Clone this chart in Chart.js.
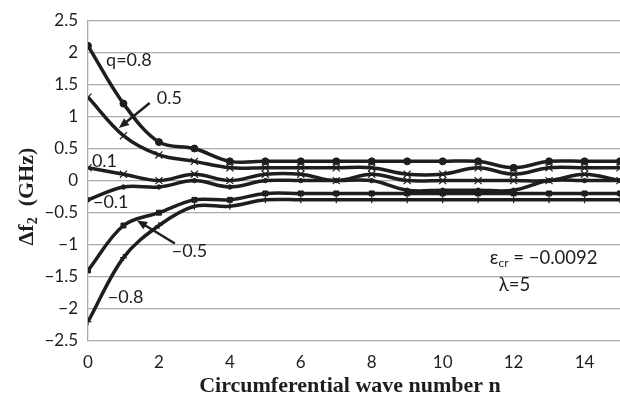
<!DOCTYPE html>
<html>
<head>
<meta charset="utf-8">
<script src="https://cdn.jsdelivr.net/npm/chart.js@4.4.1/dist/chart.umd.min.js"></script>
<style>
  body { margin: 0; background: #fff; }
  #wrap { width: 620px; height: 394px; position: relative; }
</style>
</head>
<body>
<div id="wrap"><canvas id="modesChart"></canvas></div>
<script>
// wave numbers n and frequency shifts (GHz)
const waveNumbers = [0, 1, 2, 3, 4, 5, 6, 7, 8, 9, 10, 11, 12, 13, 14, 15];
const shiftQ08 = [2.1, 1.2, 0.6, 0.5, 0.3, 0.3, 0.3, 0.3, 0.3, 0.3, 0.3, 0.3, 0.2, 0.3, 0.3, 0.3];
const shiftQ05 = [1.3, 0.7, 0.4, 0.3, 0.2, 0.2, 0.2, 0.2, 0.2, 0.1, 0.1, 0.2, 0.1, 0.2, 0.2, 0.2];
const shiftQ01 = [0.2, 0.1, 0, 0.1, 0, 0.1, 0.1, 0, 0.1, 0, 0, 0, 0, 0, 0.1, 0];
const shiftQm01 = [-0.3, -0.1, -0.1, 0, -0.1, 0, 0, 0, 0, -0.15, -0.15, -0.15, -0.15, 0, 0, 0];
const shiftQm05 = [-1.4, -0.7, -0.5, -0.3, -0.3, -0.2, -0.2, -0.2, -0.2, -0.2, -0.2, -0.2, -0.2, -0.2, -0.2, -0.2];
const shiftQm08 = [-2.2, -1.2, -0.7, -0.4, -0.4, -0.3, -0.3, -0.3, -0.3, -0.3, -0.3, -0.3, -0.3, -0.3, -0.3, -0.3];

const xTicks = [0, 2, 4, 6, 8, 10, 12, 14];

// curve labels, placed in data units: [text, n, value]
const curveLabels = [
  ['q=0.8', 0.51, 1.88],
  ['0.5', 1.94, 1.29],
  ['0.1', 0.11, 0.31],
  ['\u22120.1', 0.14, -0.34],
  ['\u22120.5', 2.36, -1.10],
  ['\u22120.8', 0.56, -1.82]
];
// arrows: [fromN, fromV, toN, toV]
const arrows = [
  [1.74, 1.21, 0.87, 0.82],
  [2.45, -0.98, 1.38, -0.62]
];

const ink = '#1e1e1e';

function series(values, style, radius) {
  return {
    data: waveNumbers.map((n, i) => ({ x: n, y: values[i] })),
    borderColor: ink,
    backgroundColor: ink,
    borderWidth: 3.5,
    pointStyle: style,
    pointRadius: radius,
    pointBorderWidth: style === 'crossRot' || style === 'cross' ? 1.2 : 1,
    pointBorderColor: ink,
    tension: 0.35,
    fill: false
  };
}

const minus = v => (v < 0 ? '\u2212' + Math.abs(v) : String(v));

const overlay = {
  id: 'overlay',
  afterDatasetsDraw(chart) {
    const { ctx, chartArea, scales: { x, y } } = chart;
    ctx.save();
    ctx.fillStyle = ink;
    ctx.strokeStyle = ink;
    ctx.font = '18px Lato';
    ctx.textBaseline = 'middle';
    ctx.textAlign = 'left';
    curveLabels.forEach(([t, n, v]) => {
      ctx.fillText(t, x.getPixelForValue(n), y.getPixelForValue(v));
    });

    // arrows with filled heads
    arrows.forEach(([n1, v1, n2, v2]) => {
      const x1 = x.getPixelForValue(n1), y1 = y.getPixelForValue(v1);
      const x2 = x.getPixelForValue(n2), y2 = y.getPixelForValue(v2);
      const a = Math.atan2(y2 - y1, x2 - x1);
      ctx.lineWidth = 2.5;
      ctx.beginPath();
      ctx.moveTo(x1, y1);
      ctx.lineTo(x2 - 6 * Math.cos(a), y2 - 6 * Math.sin(a));
      ctx.stroke();
      ctx.beginPath();
      ctx.moveTo(x2, y2);
      ctx.lineTo(x2 - 11 * Math.cos(a - 0.4), y2 - 11 * Math.sin(a - 0.4));
      ctx.lineTo(x2 - 11 * Math.cos(a + 0.4), y2 - 11 * Math.sin(a + 0.4));
      ctx.closePath();
      ctx.fill();
    });

    // parameter note
    let px = x.getPixelForValue(11.33), py = y.getPixelForValue(-1.21);
    ctx.font = '19px Lato';
    ctx.fillText('\u03b5', px, py);
    px += ctx.measureText('\u03b5').width;
    ctx.font = '12px Lato';
    ctx.fillText('cr', px, py + 5);
    px += ctx.measureText('cr').width;
    ctx.font = '18.5px Lato';
    ctx.fillText(' = \u22120.0092', px, py);
    ctx.fillText('\u03bb=5', x.getPixelForValue(11.58), y.getPixelForValue(-1.63));

    // axis titles
    ctx.font = 'bold 22px "Liberation Serif"';
    ctx.textAlign = 'center';
    ctx.textBaseline = 'alphabetic';
    ctx.fillText('Circumferential wave number n', (chartArea.left + chartArea.right) / 2 - 4, chartArea.bottom + 51);

    ctx.translate(33, (chartArea.top + chartArea.bottom) / 2 + 16);
    ctx.rotate(-Math.PI / 2);
    const big = 'bold 22px "Liberation Serif"', small = 'bold 14px "Liberation Serif"';
    ctx.font = big;
    const w1 = ctx.measureText('\u0394f').width;
    const w3 = ctx.measureText('  (GHz)').width;
    ctx.font = small;
    const w2 = ctx.measureText('2').width;
    let tx = -(w1 + w2 + w3) / 2;
    ctx.textAlign = 'left';
    ctx.font = big;
    ctx.fillText('\u0394f', tx, 0);
    tx += w1;
    ctx.font = small;
    ctx.fillText('2', tx, 4);
    tx += w2;
    ctx.font = big;
    ctx.fillText('  (GHz)', tx, 0);
    ctx.restore();
  }
};

new Chart(document.getElementById('modesChart'), {
  type: 'line',
  data: {
    datasets: [
      series(shiftQ08, 'circle', 3.5),
      series(shiftQ05, 'crossRot', 5),
      series(shiftQ01, 'crossRot', 5),
      series(shiftQm01, 'circle', 2.2),
      series(shiftQm05, 'rect', 3.5),
      series(shiftQm08, 'cross', 3.5)
    ]
  },
  options: {
    responsive: true,
    maintainAspectRatio: false,
    animation: false,
    // plot runs right up to the canvas edge, so no automatic padding
    layout: { autoPadding: false, padding: { top: 19, right: 0, left: 0, bottom: 0 } },
    plugins: { legend: { display: false }, tooltip: { enabled: false } },
    scales: {
      x: {
        type: 'linear',
        min: 0,
        max: 15,
        afterFit: s => { s.height = 53; },
        afterBuildTicks: s => { s.ticks = xTicks.map(v => ({ value: v })); },
        grid: { display: false, drawTicks: false, tickLength: 0 },
        border: { display: false },
        ticks: { color: ink, font: { family: 'Lato', size: 17 }, padding: 11, maxRotation: 0 }
      },
      y: {
        min: -2.5,
        max: 2.5,
        afterFit: s => { s.width = 88; },
        grid: { color: '#ababab', lineWidth: 1.3, drawTicks: false },
        border: { display: true, color: '#ababab', width: 1.3 },
        ticks: {
          stepSize: 0.5,
          color: ink,
          font: { family: 'Lato', size: 17 },
          padding: 10,
          callback: v => minus(v)
        }
      }
    }
  },
  plugins: [overlay]
});
</script>
</body>
</html>
